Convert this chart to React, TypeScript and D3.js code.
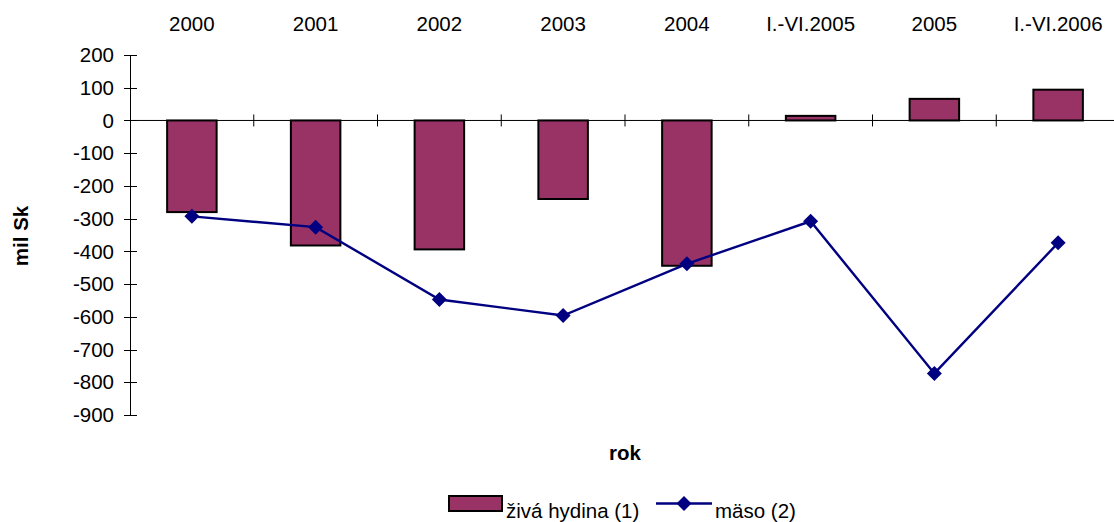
import React from "react";
import * as d3 from "d3";

const categories = ["2000", "2001", "2002", "2003", "2004", "I.-VI.2005", "2005", "I.-VI.2006"];
const zivaHydina = [-280, -382, -394, -240, -444, 14, 66, 94];
const maso = [-293, -326, -547, -596, -438, -308, -773, -374];
const yTicks = [200, 100, 0, -100, -200, -300, -400, -500, -600, -700, -800, -900];

const W = 1114;
const H = 522;
const FONT = "'Liberation Sans', Arial, sans-serif";
const BAR_FILL = "#993366";
const LINE_COLOR = "#000080";
const FS = 20.5;

export default function App() {
  const x = d3.scaleBand<string>().domain(categories).range([130, 1120]);
  const y = d3.scaleLinear().domain([-900, 200]).range([415, 55]);
  const bw = x.bandwidth();
  const barW = bw * 0.4;
  const y0 = y(0);
  const cx = (c: string) => (x(c) as number) + bw / 2;

  const line = d3
    .line<number>()
    .x((_, i) => cx(categories[i]))
    .y((d) => y(d));

  const diamond = (px: number, py: number, r: number) =>
    `M${px},${py - r}L${px + r},${py}L${px},${py + r}L${px - r},${py}Z`;

  const boundaries = categories.map((c) => (x(c) as number) + bw).slice(0, -1);

  return (
    <div style={{ position: "fixed", left: 0, top: 0 }}>
      <svg width={W} height={H} style={{ display: "block", background: "#fff" }} fontFamily={FONT}>
        {/* bars */}
        {zivaHydina.map((v, i) => {
          const top = Math.min(y(v), y0);
          const h = Math.abs(y(v) - y0);
          return (
            <rect
              key={"b" + i}
              x={cx(categories[i]) - barW / 2}
              y={top}
              width={barW}
              height={h}
              fill={BAR_FILL}
              stroke="#000"
              strokeWidth={2}
            />
          );
        })}
        {/* zero line (category axis) */}
        <line x1={130} x2={1120} y1={y0} y2={y0} stroke="#000" strokeWidth={1} />
        {boundaries.map((bx, i) => (
          <line key={"ct" + i} x1={bx} x2={bx} y1={y0 - 6} y2={y0 + 6} stroke="#000" strokeWidth={1} />
        ))}
        {/* y axis */}
        <line x1={130.5} x2={130.5} y1={y(200)} y2={y(-900)} stroke="#000" strokeWidth={1} />
        {yTicks.map((t) => (
          <g key={"yt" + t}>
            <line x1={124} x2={137} y1={Math.round(y(t)) + 0.5} y2={Math.round(y(t)) + 0.5} stroke="#000" strokeWidth={1} />
            <text x={114} y={y(t)} dy="0.35em" textAnchor="end" fontSize={FS} fill="#000">
              {t}
            </text>
          </g>
        ))}
        {/* category labels at top */}
        {categories.map((c) => (
          <text key={"cl" + c} x={cx(c)} y={31} textAnchor="middle" fontSize={FS} fill="#000">
            {c}
          </text>
        ))}
        {/* line series */}
        <path d={line(maso) || ""} fill="none" stroke={LINE_COLOR} strokeWidth={2.4} />
        {maso.map((v, i) => (
          <path key={"m" + i} d={diamond(cx(categories[i]), y(v), 7.5)} fill={LINE_COLOR} />
        ))}
        {/* axis titles */}
        <text
          transform={`translate(28,236) rotate(-90)`}
          textAnchor="middle"
          fontSize={FS}
          fontWeight="bold"
          fill="#000"
        >
          mil Sk
        </text>
        <text x={625} y={460} textAnchor="middle" fontSize={FS} fontWeight="bold" fill="#000">
          rok
        </text>
        {/* legend */}
        <rect x={449} y={496} width={53} height={15} fill={BAR_FILL} stroke="#000" strokeWidth={2} />
        <text x={506} y={518} fontSize={FS} fill="#000">
          živá hydina (1)
        </text>
        <line x1={656} x2={712} y1={503.5} y2={503.5} stroke={LINE_COLOR} strokeWidth={2.4} />
        <path d={diamond(684, 503.5, 7.5)} fill={LINE_COLOR} />
        <text x={715} y={518} fontSize={FS} fill="#000">
          mäso (2)
        </text>
      </svg>
    </div>
  );
}
